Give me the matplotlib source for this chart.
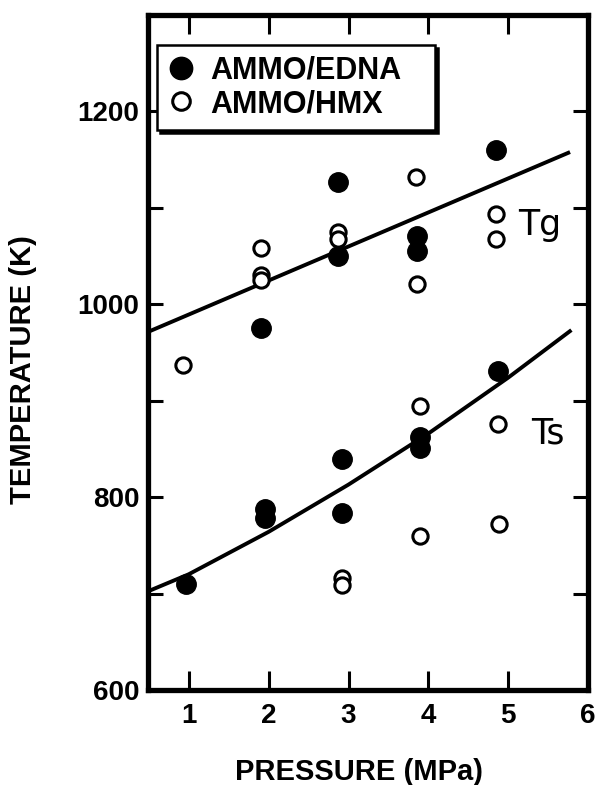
import matplotlib.pyplot as plt

# surface (Ts) and gas (Tg) temperatures vs pressure
edna_tg_p = [4.84, 2.87, 3.86, 2.87, 3.86, 1.90]
edna_tg_t = [1160, 1127, 1071, 1050, 1055, 975]
hmx_tg_p = [3.85, 4.84, 4.84, 2.87, 2.87, 1.90, 1.90, 1.90, 3.86, 0.93]
hmx_tg_t = [1132, 1094, 1068, 1075, 1068, 1058, 1030, 1025, 1021, 937]

edna_ts_p = [4.87, 3.89, 3.89, 2.92, 1.95, 1.95, 2.92, 0.96]
edna_ts_t = [931, 862, 851, 840, 788, 778, 784, 710]
hmx_ts_p = [3.89, 4.87, 3.89, 4.88, 2.92, 2.92]
hmx_ts_t = [895, 876, 760, 772, 716, 709]

# fitted curves
tg_fit_p = [0.51, 5.75]
tg_fit_t = [972, 1157]
ts_fit_p = [0.51, 1.0, 2.0, 3.0, 4.0, 5.0, 5.77]
ts_fit_t = [703, 720, 764, 813, 866, 924, 972]

x_ticks = [1, 2, 3, 4, 5, 6]
y_ticks = [600, 800, 1000, 1200]
y_minor = [700, 900, 1100]

plt.rcParams['font.family'] = ['Liberation Sans', 'DejaVu Sans']
plt.rcParams['font.weight'] = 'bold'

fig = plt.figure(figsize=(5.99, 7.85), dpi=100)
ax = fig.add_axes([0.247, 0.121, 0.735, 0.860])

filled = dict(marker='o', linestyle='none', markersize=14, color='black')
hollow = dict(marker='o', linestyle='none', markersize=11, markerfacecolor='white',
              markeredgecolor='black', markeredgewidth=2.2)

ax.plot(tg_fit_p, tg_fit_t, color='black', lw=2.8, zorder=2)
ax.plot(ts_fit_p, ts_fit_t, color='black', lw=2.8, zorder=2)

ax.plot(hmx_tg_p, hmx_tg_t, zorder=3, **hollow)
ax.plot(hmx_ts_p, hmx_ts_t, zorder=3, **hollow)
h1, = ax.plot(edna_tg_p, edna_tg_t, zorder=4, label='AMMO/EDNA', **filled)
ax.plot(edna_ts_p, edna_ts_t, zorder=4, **filled)
h2, = ax.plot([], [], label='AMMO/HMX', **hollow)

ax.text(5.39, 1082, 'Tg', fontsize=25, fontweight='normal', family='DejaVu Sans',
        ha='center', va='center')
ax.text(5.50, 866, 'Ts', fontsize=25, fontweight='normal', family='DejaVu Sans',
        ha='center', va='center')

ax.set_xlim(0.49, 6.0)
ax.set_ylim(600, 1300)
ax.set_xticks(x_ticks)
ax.set_yticks(y_ticks)
ax.set_yticks(y_minor, minor=True)
ax.tick_params(axis='x', direction='in', length=14, width=2.2, top=True,
               labelsize=20, pad=9)
ax.tick_params(axis='y', which='both', direction='in', length=11, width=2.2,
               right=True, labelsize=20, pad=6)
for s in ax.spines.values():
    s.set_linewidth(3.8)

ax.set_xlabel('PRESSURE (MPa)', fontsize=21, fontweight='bold')
ax.set_ylabel('TEMPERATURE (K)', fontsize=21, fontweight='bold')
ax.xaxis.set_label_coords(0.48, -0.100)
ax.yaxis.set_label_coords(-0.252, 0.474)

leg = ax.legend(handles=[h1, h2], loc='upper left', mode='expand',
                bbox_to_anchor=(0.02, 0.655, 0.632, 0.30),
                borderaxespad=0, fontsize=22, handlelength=0.9, handletextpad=0.5,
                borderpad=0.35, labelspacing=0.1, markerscale=1.15, fancybox=False,
                framealpha=1, shadow={'color': 'black', 'alpha': 1})
leg.get_frame().set_edgecolor('black')
leg.get_frame().set_linewidth(1.8)

fig.savefig('out.png', dpi=100)
